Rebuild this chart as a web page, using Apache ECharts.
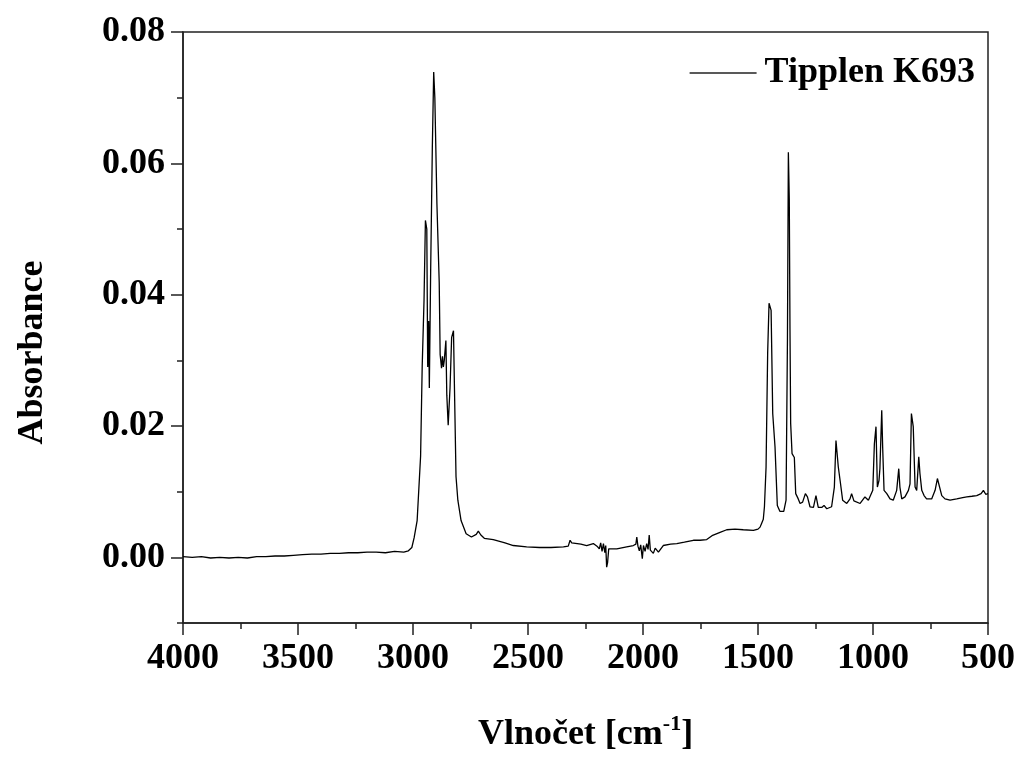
<!DOCTYPE html>
<html>
<head>
<meta charset="utf-8">
<script src="https://cdn.jsdelivr.net/npm/echarts@6/dist/echarts.min.js"></script>
<style>
  html, body { margin: 0; padding: 0; background: #fff; }
  #chart { width: 1022px; height: 758px; }
</style>
</head>
<body>
<div id="chart"></div>
<script>
// FTIR absorbance spectrum of Tipplen K693 (wavenumber in cm^-1, absorbance)
const seriesName = 'Tipplen K693';

const wavenumber = [
  4000, 3960, 3920, 3880, 3840, 3800, 3760, 3720, 3680, 3640,
  3600, 3560, 3520, 3480, 3440, 3400, 3360, 3320, 3280, 3240,
  3200, 3160, 3120, 3080, 3040, 3020, 3005, 2995, 2982, 2967,
  2960, 2952, 2946, 2942, 2940, 2936, 2932, 2929, 2923, 2916,
  2910, 2905, 2896, 2886, 2882, 2876, 2872, 2868, 2864, 2857,
  2853, 2847, 2843, 2839, 2832, 2824, 2820, 2813, 2805, 2791,
  2769, 2746, 2725, 2716, 2705, 2690, 2651, 2600, 2564, 2506,
  2450, 2400, 2346, 2325, 2317, 2310, 2303, 2270, 2245, 2216,
  2200, 2190, 2184, 2178, 2172, 2166, 2162, 2158, 2154, 2149,
  2143, 2114, 2071, 2042, 2031, 2027, 2022, 2016, 2010, 2003,
  1998, 1991, 1984, 1978, 1973, 1968, 1962, 1955, 1947, 1933,
  1912, 1880, 1853, 1820, 1781, 1752, 1723, 1700, 1694, 1665,
  1636, 1600, 1564, 1520, 1500, 1491, 1484, 1477, 1472, 1465,
  1458, 1452, 1447, 1443, 1436, 1426, 1416, 1405, 1397, 1388,
  1383, 1378, 1372, 1368, 1364, 1361, 1358, 1352, 1342, 1336,
  1325, 1317, 1306, 1294, 1285, 1274, 1259, 1248, 1238, 1223,
  1213, 1201, 1180, 1168, 1161, 1151, 1143, 1132, 1114, 1100,
  1093, 1083, 1056, 1035, 1020, 1001, 994, 987, 981, 974,
  970, 962, 958, 952, 940, 926, 912, 897, 888, 883,
  875, 861, 846, 839, 833, 825, 817, 810, 801, 796,
  788, 778, 767, 745, 730, 720, 712, 701, 687, 665,
  636, 610, 592, 570, 549, 530, 520, 510, 505, 500
];

const absorbance = [
  0.0001, 0.0000, 0.0001, -0.0001, 0.0000, -0.0001, 0.0000, -0.0001, 0.0001, 0.0001,
  0.0002, 0.0002, 0.0003, 0.0004, 0.0005, 0.0005, 0.0006, 0.0006, 0.0007, 0.0007,
  0.0008, 0.0008, 0.0007, 0.0009, 0.0008, 0.0010, 0.0015, 0.0030, 0.0056, 0.0154,
  0.0291, 0.0392, 0.0513, 0.0510, 0.0500, 0.0290, 0.0360, 0.0258, 0.0443, 0.0623,
  0.0739, 0.0700, 0.0538, 0.0418, 0.0309, 0.0288, 0.0306, 0.0290, 0.0300, 0.0330,
  0.0247, 0.0201, 0.0230, 0.0258, 0.0335, 0.0345, 0.0263, 0.0123, 0.0087, 0.0056,
  0.0036, 0.0031, 0.0035, 0.0040, 0.0034, 0.0029, 0.0027, 0.0022, 0.0018, 0.0016,
  0.0015, 0.0015, 0.0016, 0.0017, 0.0026, 0.0022, 0.0022, 0.0020, 0.0018, 0.0021,
  0.0017, 0.0013, 0.0022, 0.0009, 0.0021, 0.0007, 0.0018, -0.0015, -0.0008, 0.0013,
  0.0011, 0.0013, 0.0016, 0.0018, 0.0020, 0.0031, 0.0017, 0.0010, 0.0019, -0.0002,
  0.0018, 0.0009, 0.0021, 0.0012, 0.0034, 0.0011, 0.0011, 0.0006, 0.0014, 0.0008,
  0.0018, 0.0020, 0.0021, 0.0023, 0.0026, 0.0026, 0.0027, 0.0033, 0.0034, 0.0038,
  0.0042, 0.0043, 0.0042, 0.0041, 0.0043, 0.0046, 0.0052, 0.0058, 0.0077, 0.0137,
  0.0311, 0.0387, 0.0385, 0.0376, 0.0219, 0.0168, 0.0079, 0.0070, 0.0069, 0.0070,
  0.0072, 0.0087, 0.0331, 0.0617, 0.0545, 0.0350, 0.0204, 0.0158, 0.0152, 0.0097,
  0.0089, 0.0082, 0.0084, 0.0097, 0.0092, 0.0077, 0.0076, 0.0094, 0.0076, 0.0076,
  0.0079, 0.0074, 0.0077, 0.0107, 0.0178, 0.0138, 0.0117, 0.0087, 0.0082, 0.0089,
  0.0097, 0.0086, 0.0082, 0.0092, 0.0087, 0.0102, 0.0173, 0.0199, 0.0107, 0.0117,
  0.0135, 0.0224, 0.0168, 0.0102, 0.0097, 0.0089, 0.0087, 0.0102, 0.0135, 0.0107,
  0.0089, 0.0092, 0.0102, 0.0112, 0.0219, 0.0199, 0.0107, 0.0102, 0.0153, 0.0128,
  0.0102, 0.0094, 0.0089, 0.0089, 0.0102, 0.0120, 0.0117, 0.0094, 0.0089, 0.0087,
  0.0089, 0.0091, 0.0092, 0.0093, 0.0094, 0.0097, 0.0102, 0.0096, 0.0094, 0.0097
];

// labelled (long) ticks on the absorbance axis
const yMajorTicks = [0, 0.02, 0.04, 0.06, 0.08];

const FONT = '"Liberation Serif", "Times New Roman", serif';
const AXIS_COLOR = '#222';

const points = wavenumber.map((w, i) => [w, absorbance[i]]);

const chart = echarts.init(document.getElementById('chart'), null, { renderer: 'canvas' });

chart.setOption({
  animation: false,
  backgroundColor: '#fff',
  grid: {
    left: 183, right: 34, top: 32, bottom: 135,
    show: true, borderColor: AXIS_COLOR, borderWidth: 1.5,
    backgroundColor: 'transparent'
  },
  legend: {
    data: [seriesName],
    right: 47, top: 55, padding: 0,
    icon: 'rect',
    itemWidth: 67, itemHeight: 1.5,
    itemStyle: { color: '#222' },
    textStyle: { fontFamily: FONT, fontWeight: 'bold', fontSize: 36, color: '#000', padding: [0, 0, 0, 3] }
  },
  xAxis: {
    type: 'value',
    inverse: true,
    min: 500, max: 4000, interval: 500,
    name: '{a|Vlnočet [cm}{s|-1}{a|]}',
    nameLocation: 'middle',
    nameGap: 90,
    nameTextStyle: {
      fontFamily: FONT, fontWeight: 'bold', fontSize: 36, color: '#000',
      rich: {
        a: { fontFamily: FONT, fontWeight: 'bold', fontSize: 36, color: '#000', lineHeight: 44 },
        s: { fontFamily: FONT, fontWeight: 'bold', fontSize: 22, color: '#000', lineHeight: 22, verticalAlign: 'top' }
      }
    },
    axisLine: { onZero: false, lineStyle: { color: AXIS_COLOR, width: 1.5 } },
    axisTick: { length: 12, lineStyle: { color: AXIS_COLOR, width: 1.5 } },
    minorTick: { show: true, splitNumber: 2, length: 6, lineStyle: { color: AXIS_COLOR, width: 1.5 } },
    axisLabel: {
      fontFamily: FONT, fontWeight: 'bold', fontSize: 36, color: '#000', margin: 18,
      formatter: v => String(v)
    },
    splitLine: { show: false }
  },
  yAxis: [
    {
      type: 'value',
      min: -0.01, max: 0.08,
      name: 'Absorbance',
      nameLocation: 'middle',
      nameGap: 132,
      nameTextStyle: {
        fontFamily: FONT, fontWeight: 'bold', fontSize: 36, color: '#000',
        padding: [0, 50, 0, 0]
      },
      axisLine: { show: true, onZero: false, lineStyle: { color: AXIS_COLOR, width: 1.5 } },
      axisTick: { show: true, customValues: yMajorTicks, length: 12, lineStyle: { color: AXIS_COLOR, width: 1.5 } },
      axisLabel: {
        customValues: yMajorTicks,
        fontFamily: FONT, fontWeight: 'bold', fontSize: 36, color: '#000', margin: 18,
        formatter: v => v.toFixed(2)
      },
      splitLine: { show: false }
    },
    {
      // short ticks every 0.01
      type: 'value',
      position: 'left',
      min: -0.01, max: 0.08, interval: 0.01,
      axisLine: { show: false },
      axisTick: { show: true, length: 6, lineStyle: { color: AXIS_COLOR, width: 1.5 } },
      axisLabel: { show: false },
      splitLine: { show: false }
    }
  ],
  series: [{
    name: seriesName,
    type: 'line',
    data: points,
    yAxisIndex: 0,
    symbol: 'none',
    lineStyle: { color: '#000', width: 1.3 },
    itemStyle: { color: '#000' }
  }]
});
</script>
</body>
</html>
